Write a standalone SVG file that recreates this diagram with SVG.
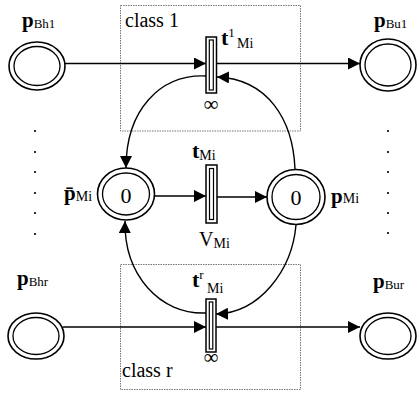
<svg xmlns="http://www.w3.org/2000/svg" width="418" height="397" viewBox="0 0 418 397">
<style>
.pl{fill:none;stroke:#000;stroke-width:1.6}
.pi{fill:none;stroke:#000;stroke-width:1.3}
.tr-o{fill:#fff;stroke:#000;stroke-width:1.5}
.tr-i{fill:none;stroke:#000;stroke-width:1.2}
.box{fill:none;stroke:#777;stroke-width:1;stroke-dasharray:1.5,1}
.ln{fill:none;stroke:#000;stroke-width:1.4}
.tx{font-family:"Liberation Serif","Times New Roman",serif;fill:#000}
.b{font-weight:bold}
.dot{fill:#000}
</style>
<defs>
<marker id="ah" markerUnits="userSpaceOnUse" markerWidth="13" markerHeight="12" refX="12" refY="6" orient="auto">
<path d="M0,0 L12,6 L0,12 z" fill="#000"/>
</marker>
</defs>
<g id="class1"><rect class="box" x="120.5" y="5.5" width="180" height="125.5"/><text class="tx" x="125" y="27" font-size="20">class 1</text></g>
<g id="classr"><rect class="box" x="120.5" y="264.5" width="180" height="125"/><text class="tx" x="122" y="377" font-size="20">class r</text></g>
<g id="connectors">
<line class="ln" x1="65" y1="63.5" x2="206" y2="63.5" marker-end="url(#ah)"/>
<line class="ln" x1="216" y1="63.5" x2="360" y2="63.5" marker-end="url(#ah)"/>
<line class="ln" x1="155" y1="196" x2="206" y2="196" marker-end="url(#ah)"/>
<line class="ln" x1="216" y1="197" x2="267" y2="197" marker-end="url(#ah)"/>
<line class="ln" x1="63" y1="327" x2="206" y2="327" marker-end="url(#ah)"/>
<line class="ln" x1="216" y1="327" x2="360" y2="327" marker-end="url(#ah)"/>
<path class="ln" d="M206,76 C160,74 126,110 126,168" marker-end="url(#ah)"/>
<path class="ln" d="M295,169 C293,120 268,79 217,77" marker-end="url(#ah)"/>
<path class="ln" d="M206,313 C160,315 124,275 125,221" marker-end="url(#ah)"/>
<path class="ln" d="M296,225 C292,270 260,313 216,314" marker-end="url(#ah)"/>
</g>
<g id="pBh1"><ellipse class="pl" cx="37" cy="66" rx="28" ry="24"/><ellipse class="pi" cx="37" cy="66" rx="23" ry="19.5"/><text class="tx" y="27"><tspan class="b" x="22" font-size="21">p</tspan><tspan font-size="13" dy="1">Bh1</tspan></text></g>
<g id="pBu1"><ellipse class="pl" cx="388" cy="65" rx="28" ry="26"/><ellipse class="pi" cx="388" cy="65" rx="23" ry="21"/><text class="tx" y="27"><tspan class="b" x="374" font-size="21">p</tspan><tspan font-size="13" dy="1">Bu1</tspan></text></g>
<g id="pBhr"><ellipse class="pl" cx="36" cy="336" rx="28" ry="23"/><ellipse class="pi" cx="36" cy="336" rx="23" ry="18.5"/><text class="tx" y="285"><tspan class="b" x="17" font-size="21">p</tspan><tspan font-size="13" dy="1">Bhr</tspan></text></g>
<g id="pBur"><ellipse class="pl" cx="388" cy="336" rx="28" ry="23"/><ellipse class="pi" cx="388" cy="336" rx="23" ry="18.5"/><text class="tx" y="288"><tspan class="b" x="373" font-size="21">p</tspan><tspan font-size="13" dy="1">Bur</tspan></text></g>
<g id="pMiBar"><ellipse class="pl" cx="126" cy="194" rx="28.5" ry="26"/><ellipse class="pi" cx="126" cy="194" rx="23.5" ry="21"/><text class="tx" x="126" y="203" font-size="22" text-anchor="middle">0</text><text class="tx" y="200"><tspan class="b" x="64" font-size="21">p&#x304;</tspan><tspan font-size="14" dy="1">Mi</tspan></text></g>
<g id="pMi"><ellipse class="pl" cx="296" cy="197" rx="29" ry="27.5"/><ellipse class="pi" cx="296" cy="197" rx="24" ry="22.5"/><text class="tx" x="296" y="205" font-size="22" text-anchor="middle">0</text><text class="tx" y="203"><tspan class="b" x="331" font-size="21">p</tspan><tspan font-size="14" dy="0">Mi</tspan></text></g>
<g id="t1"><rect class="tr-o" x="206" y="37" width="10.5" height="56"/><rect class="tr-i" x="209.3" y="40" width="4" height="50"/><text class="tx" y="45"><tspan class="b" x="221" font-size="22">t</tspan><tspan font-size="13" dy="-8">1</tspan><tspan font-size="14" x="237" dy="11">Mi</tspan></text><text class="tx" x="211" y="111" font-size="21" text-anchor="middle">∞</text></g>
<g id="tMi"><rect class="tr-o" x="206" y="165" width="11" height="58"/><rect class="tr-i" x="209.5" y="168.5" width="4" height="51"/><text class="tx" y="158"><tspan class="b" x="192" font-size="22">t</tspan><tspan font-size="14" dy="2">Mi</tspan></text><text class="tx" y="246"><tspan x="199" font-size="20">V</tspan><tspan font-size="14" dy="2">Mi</tspan></text></g>
<g id="tr"><rect class="tr-o" x="206" y="299" width="10" height="53"/><rect class="tr-i" x="209.3" y="302" width="3.5" height="47"/><text class="tx" y="287"><tspan class="b" x="192" font-size="22">t</tspan><tspan font-size="13" dy="-8">r</tspan><tspan font-size="14" x="207" dy="14">Mi</tspan></text><text class="tx" x="211" y="364" font-size="21" text-anchor="middle">∞</text></g>
<g id="dots">
<circle class="dot" cx="35" cy="131" r="1.1"/><circle class="dot" cx="35" cy="152" r="1.1"/><circle class="dot" cx="35" cy="172" r="1.1"/><circle class="dot" cx="35" cy="193" r="1.1"/><circle class="dot" cx="35" cy="213" r="1.1"/><circle class="dot" cx="35" cy="234" r="1.1"/>
<circle class="dot" cx="388" cy="131" r="1.1"/><circle class="dot" cx="388" cy="152" r="1.1"/><circle class="dot" cx="388" cy="172" r="1.1"/><circle class="dot" cx="388" cy="193" r="1.1"/><circle class="dot" cx="388" cy="213" r="1.1"/><circle class="dot" cx="388" cy="233" r="1.1"/>
</g>
</svg>
